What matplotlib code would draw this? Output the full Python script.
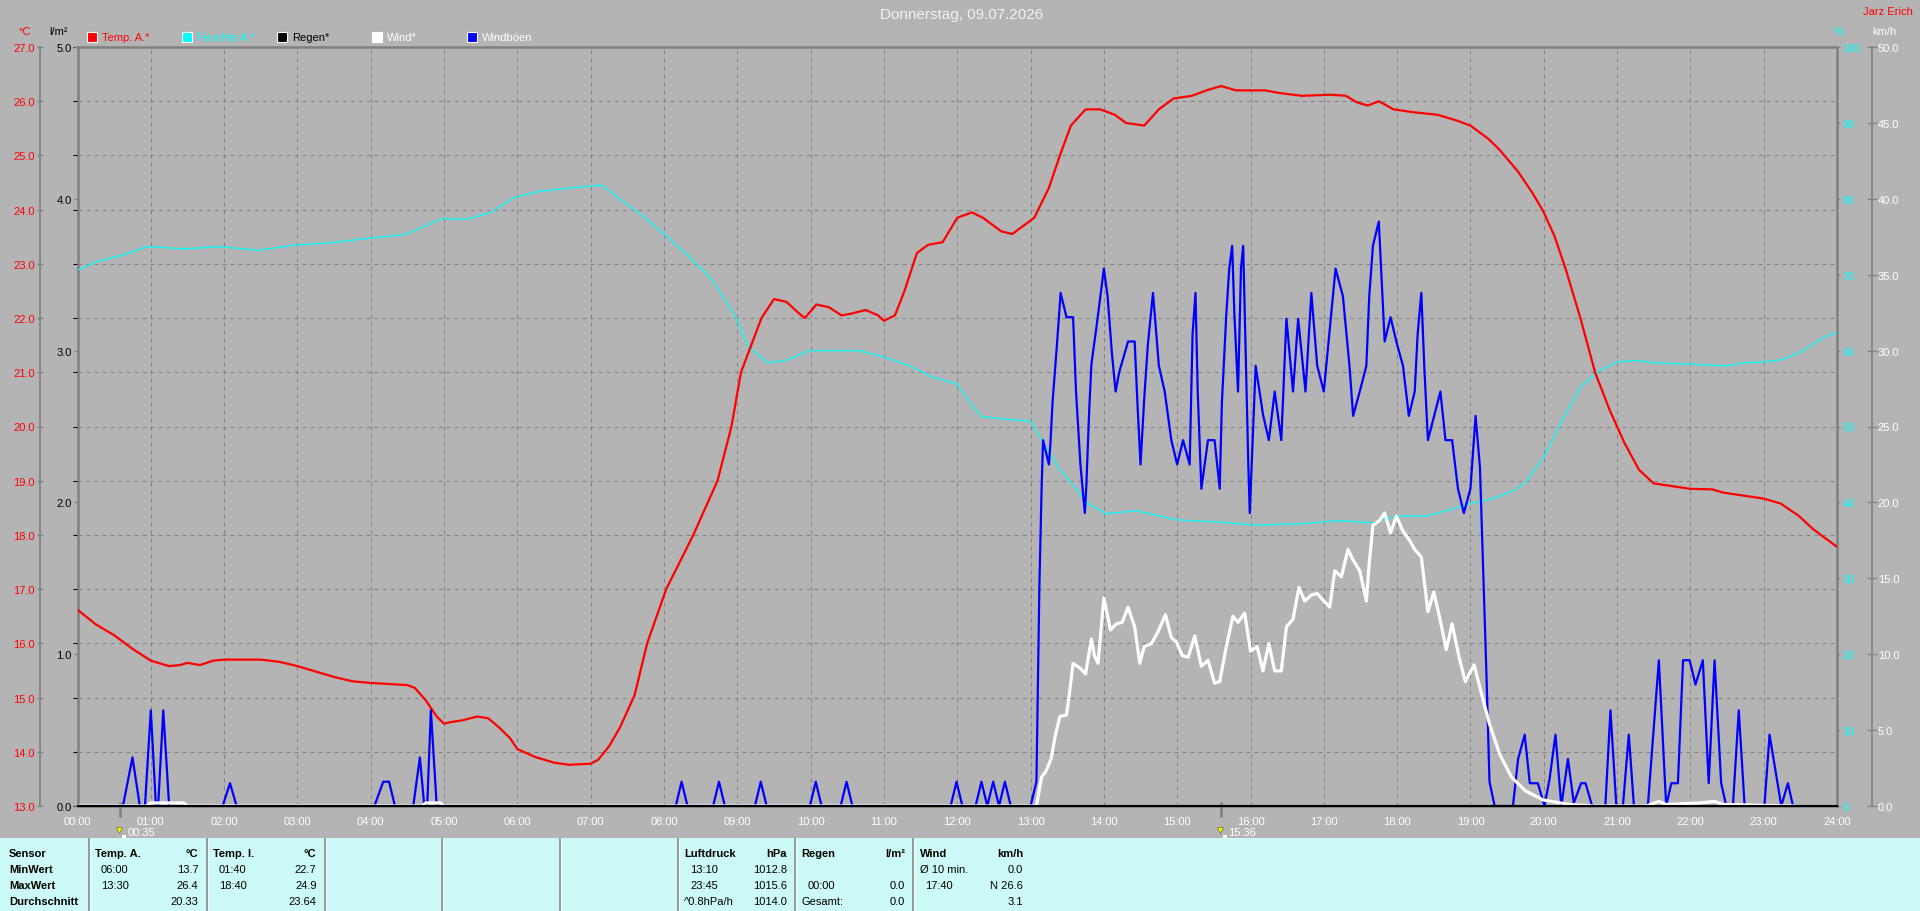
import matplotlib
matplotlib.use("Agg")
import numpy as np
import matplotlib.pyplot as plt
from matplotlib.patches import Rectangle
from matplotlib.ticker import FormatStrFormatter
from matplotlib.transforms import offset_copy

plt.rcParams['font.family'] = ['Liberation Sans', 'DejaVu Sans']

W, H = 1920, 912
BG = '#B4B4B4'
GRIDC = '#808080'
TABLEC = '#CCFAF6'
RED, CYAN, BLUE = '#FF0000', '#00FFFF', '#0000FF'

title = "Donnerstag, 09.07.2026"
station = "Jarz Erich"

# ---- series (hours of day, value) ----
temp_hours = [0.0, 0.25, 0.5, 0.75, 1.0, 1.25, 1.4, 1.5, 1.67, 1.85, 2.0, 2.5, 2.75, 3.0, 3.25, 3.5,
              3.75, 4.0, 4.5, 4.6, 4.75, 4.9, 5.0, 5.1, 5.25, 5.45, 5.6, 5.75, 5.9, 6.0, 6.25, 6.5,
              6.7, 7.0, 7.1, 7.25, 7.4, 7.6, 7.77, 8.03, 8.4, 8.73, 8.92, 9.05, 9.33, 9.5, 9.67,
              9.83, 9.92, 10.08, 10.25, 10.42, 10.55, 10.75, 10.92, 11.0, 11.15, 11.28, 11.45, 11.6,
              11.8, 12.0, 12.2, 12.35, 12.6, 12.75, 12.9, 13.05, 13.25, 13.4, 13.55, 13.75, 13.95,
              14.15, 14.3, 14.55, 14.75, 14.95, 15.2, 15.4, 15.6, 15.8, 16.2, 16.4, 16.7, 17.1, 17.3,
              17.45, 17.6, 17.75, 17.95, 18.2, 18.55, 18.8, 19.0, 19.25, 19.4, 19.65, 19.85, 20.0,
              20.15, 20.3, 20.5, 20.7, 20.9, 21.1, 21.3, 21.5, 21.75, 22.0, 22.3, 22.45, 23.0, 23.23,
              23.48, 23.68, 24.0]
temp_vals = [16.62, 16.35, 16.15, 15.9, 15.68, 15.58, 15.6, 15.64, 15.6, 15.68, 15.7, 15.7, 15.66,
             15.58, 15.48, 15.38, 15.3, 15.27, 15.23, 15.18, 14.95, 14.65, 14.52, 14.55, 14.58, 14.65,
             14.62, 14.45, 14.25, 14.05, 13.9, 13.8, 13.76, 13.78, 13.85, 14.1, 14.45, 15.05, 16.0,
             17.0, 18.0, 19.0, 20.0, 21.0, 22.0, 22.35, 22.3, 22.1, 22.0, 22.25, 22.2, 22.05, 22.08,
             22.15, 22.05, 21.95, 22.05, 22.5, 23.2, 23.35, 23.4, 23.85, 23.95, 23.85, 23.6, 23.55,
             23.7, 23.85, 24.4, 25.0, 25.55, 25.85, 25.85, 25.75, 25.6, 25.55, 25.85, 26.05, 26.1,
             26.2, 26.28, 26.2, 26.2, 26.15, 26.1, 26.12, 26.1, 25.98, 25.92, 26.0, 25.85, 25.8,
             25.75, 25.65, 25.55, 25.3, 25.1, 24.7, 24.3, 23.95, 23.5, 22.9, 22.0, 21.0, 20.3, 19.7,
             19.2, 18.95, 18.9, 18.85, 18.84, 18.78, 18.67, 18.58, 18.35, 18.1, 17.78]

hum_hours = [0.0, 0.28, 0.62, 0.95, 1.46, 1.96, 2.46, 2.96, 3.46, 3.97, 4.47, 4.72, 4.97, 5.31, 5.64,
             5.81, 5.97, 6.31, 6.81, 7.15, 7.31, 7.65, 7.98, 8.32, 8.65, 8.82, 8.99, 9.15, 9.41, 9.66,
             9.99, 10.66, 10.99, 11.33, 11.66, 12.0, 12.17, 12.33, 12.84, 13.0, 13.17, 13.4, 13.58,
             13.76, 14.03, 14.44, 14.99, 15.58, 16.08, 16.71, 17.21, 17.67, 17.99, 18.4, 18.67,
             18.99, 19.31, 19.58, 19.75, 20.0, 20.25, 20.5, 20.75, 21.0, 21.25, 21.5, 22.0, 22.5,
             22.75, 23.0, 23.25, 23.5, 23.67, 23.83, 24.0]
hum_vals = [70.6, 71.8, 72.6, 73.7, 73.4, 73.7, 73.2, 73.9, 74.2, 74.8, 75.3, 76.3, 77.4, 77.3, 78.2,
            79.3, 80.2, 81.0, 81.5, 81.8, 80.6, 78.2, 75.5, 72.6, 69.4, 66.9, 64.2, 60.5, 58.4, 58.7,
            60.0, 60.0, 59.2, 58.1, 56.5, 55.6, 53.2, 51.3, 50.8, 50.7, 47.9, 44.3, 42.3, 40.0, 38.5,
            38.9, 37.7, 37.4, 37.0, 37.2, 37.6, 37.3, 38.2, 38.2, 38.9, 39.8, 40.5, 41.5, 42.6, 46.0,
            50.8, 55.2, 57.3, 58.5, 58.7, 58.4, 58.2, 58.0, 58.4, 58.5, 58.8, 59.8, 60.8, 61.8, 62.4]

gust_hours = [0.0, 0.62, 0.75, 0.85, 0.92, 1.0, 1.07, 1.1, 1.17, 1.25, 1.98, 2.08, 2.17, 4.05, 4.17,
              4.25, 4.33, 4.58, 4.67, 4.73, 4.77, 4.82, 4.9, 8.16, 8.24, 8.32, 8.67, 8.75, 8.83, 9.24,
              9.32, 9.4, 9.99, 10.07, 10.15, 10.41, 10.49, 10.57, 11.91, 11.99, 12.07, 12.25, 12.33,
              12.41, 12.49, 12.57, 12.65, 12.73, 13.0,
              13.08, 13.12, 13.15, 13.17, 13.25, 13.27, 13.30, 13.36, 13.41, 13.49, 13.58, 13.62,
              13.68, 13.74, 13.76, 13.80, 13.83, 13.90, 14.00, 14.05, 14.11, 14.16, 14.21, 14.33,
              14.42, 14.46, 14.50, 14.55, 14.60, 14.67, 14.75, 14.83, 14.92, 15.00, 15.08, 15.17,
              15.21, 15.25, 15.28, 15.33, 15.42, 15.51, 15.58, 15.61, 15.67, 15.71, 15.75, 15.78,
              15.83, 15.87, 15.90, 15.94, 15.97, 15.99, 16.03, 16.07, 16.17, 16.25, 16.33, 16.42,
              16.49, 16.58, 16.65, 16.75, 16.83, 16.91, 17.00, 17.10, 17.16, 17.26, 17.35, 17.40,
              17.49, 17.58, 17.62, 17.67, 17.75, 17.80, 17.83, 17.91, 18.00, 18.08, 18.16, 18.24,
              18.28, 18.33, 18.37, 18.42, 18.59, 18.66, 18.75, 18.83, 18.91, 19.00, 19.07, 19.13,
              19.18, 19.22, 19.26, 19.33,
              19.58, 19.65, 19.74, 19.81, 19.92, 20.01, 20.08, 20.16, 20.24, 20.33, 20.41, 20.51,
              20.57, 20.66, 20.84, 20.91, 20.99, 21.08, 21.16, 21.23, 21.42, 21.57, 21.67, 21.74,
              21.83, 21.90, 21.99, 22.07, 22.17, 22.25, 22.33, 22.42, 22.49, 22.58, 22.66, 22.74,
              23.01, 23.08, 23.24, 23.33, 23.40]
gust_vals = [0, 0, 3.2, 0, 0, 6.3, 0, 0, 6.3, 0, 0, 1.5, 0, 0, 1.6, 1.6, 0, 0, 3.2, 0, 0, 6.3, 0,
             0, 1.6, 0, 0, 1.6, 0, 0, 1.6, 0, 0, 1.6, 0, 0, 1.6, 0, 0, 1.6, 0, 0, 1.6, 0, 1.6, 0,
             1.6, 0, 0,
             1.6, 14.4, 20.8, 24.1, 22.5, 23.8, 26.6, 30.4, 33.8, 32.2, 32.2, 27.3, 22.5, 19.3,
             21.0, 26.1, 29.1, 31.6, 35.4, 33.6, 29.8, 27.3, 28.6, 30.6, 30.6, 26.3, 22.5, 26.8,
             30.4, 33.8, 29.0, 27.3, 24.1, 22.5, 24.1, 22.5, 31.1, 33.8, 27.3, 20.9, 24.1, 24.1,
             20.9, 26.6, 32.4, 35.4, 36.9, 32.4, 27.3, 35.4, 36.9, 28.6, 22.5, 19.3, 24.1, 29.0,
             25.8, 24.1, 27.3, 24.1, 32.1, 27.3, 32.1, 27.3, 33.8, 29.0, 27.3, 32.4, 35.4, 33.6,
             29.0, 25.7, 27.3, 29.0, 33.6, 36.9, 38.5, 33.6, 30.6, 32.2, 30.4, 29.0, 25.7, 27.3,
             31.1, 33.8, 29.0, 24.1, 27.3, 24.1, 24.1, 20.9, 19.3, 20.9, 25.7, 22.3, 14.7, 8.4,
             1.6, 0,
             0, 3.1, 4.7, 1.5, 1.5, 0, 1.8, 4.7, 0, 3.1, 0.2, 1.5, 1.5, 0, 0, 6.3, 0, 0, 4.7, 0,
             0, 9.6, 0, 1.5, 1.5, 9.6, 9.6, 8.0, 9.6, 1.5, 9.6, 1.5, 0, 0, 6.3, 0, 0, 4.7, 0, 1.5,
             0]

wind_hours = [0.0, 0.95, 1.0, 1.45, 1.5, 4.7, 4.75, 4.95, 5.0, 13.08, 13.15, 13.21, 13.28, 13.34,
              13.40, 13.49, 13.53, 13.58, 13.67, 13.75, 13.83, 13.87, 13.92, 14.00, 14.09, 14.17,
              14.25, 14.33, 14.42, 14.49, 14.55, 14.65, 14.74, 14.84, 14.92, 14.99, 15.07, 15.15,
              15.24, 15.33, 15.42, 15.51, 15.58, 15.67, 15.76, 15.83, 15.92, 16.00, 16.09, 16.17,
              16.25, 16.33, 16.42, 16.49, 16.58, 16.66, 16.74, 16.83, 16.91, 17.00, 17.08, 17.15,
              17.24, 17.33, 17.40, 17.49, 17.58, 17.62, 17.67, 17.76, 17.83, 17.91, 17.99, 18.08,
              18.17, 18.24, 18.33, 18.42, 18.50, 18.59, 18.67, 18.75, 18.85, 18.93, 19.05, 19.15,
              19.26, 19.40, 19.56, 19.75, 19.99, 20.35, 20.67, 21.40, 21.57, 21.67, 22.12, 22.33,
              22.45, 23.40]
wind_vals = [0, 0, 0.2, 0.2, 0, 0, 0.2, 0.2, 0, 0, 1.9, 2.3, 3.1, 4.7, 5.9, 6.0, 7.4, 9.4, 9.1,
             8.7, 11.0, 9.9, 9.4, 13.7, 11.6, 12.0, 12.1, 13.1, 11.8, 9.4, 10.5, 10.7, 11.5, 12.6,
             11.1, 10.8, 9.9, 9.8, 11.2, 9.2, 9.6, 8.1, 8.2, 10.5, 12.5, 12.1, 12.7, 10.2, 10.5,
             8.9, 10.7, 8.9, 8.9, 11.8, 12.3, 14.4, 13.5, 13.9, 14.0, 13.5, 13.1, 15.5, 15.1, 16.9,
             16.2, 15.5, 13.5, 16.0, 18.5, 18.8, 19.3, 18.0, 19.1, 18.1, 17.5, 16.9, 16.4, 12.8,
             14.1, 12.2, 10.3, 12.0, 9.7, 8.2, 9.3, 7.4, 5.4, 3.4, 1.9, 1.0, 0.4, 0.1, 0, 0, 0.3,
             0.1, 0.2, 0.3, 0.1, 0]

rain_hours = [0.0, 24.0]
rain_vals = [0.0, 0.0]

legend_labels = ["Temp. A.*", "Feuchte A.*", "Regen*", "Wind*", "Windböen"]
legend_colors = [RED, CYAN, '#000000', '#FFFFFF', BLUE]
legend_text_colors = [RED, CYAN, '#000000', '#FFFFFF', '#FFFFFF']

event_hours = [35 / 60, 15.6]
event_labels = ["00:35", "15:36"]

# ---- summary table ----
row_names = ["Sensor", "MinWert", "MaxWert", "Durchschnitt"]
col_headers = ["Temp. A.", "Temp. I.", "Luftdruck", "Regen", "Wind"]
col_units = ["°C", "°C", "hPa", "l/m²", "km/h"]
col_slots = [1, 2, 6, 7, 8]
col_labels = [["06:00", "13:30", ""], ["01:40", "18:40", ""], ["13:10", "23:45", "^0.8hPa/h"],
              ["", "00:00", "Gesamt:"], ["Ø 10 min.", "17:40", ""]]
col_values = [["13.7", "26.4", "20.33"], ["22.7", "24.9", "23.64"], ["1012.8", "1015.6", "1014.0"],
              ["", "0.0", "0.0"], ["0.0", "N 26.6", "3.1"]]


def fx(x):
    return x / W


def fy(y):
    return 1 - y / H


fig = plt.figure(figsize=(19.2, 9.12), dpi=100, facecolor=BG)

# plot box in pixels
L, R, T, B = 77.5, 1837, 48, 807
ax = fig.add_axes([fx(L), fy(B), (R - L) / W, (B - T) / H])
ax.set_facecolor(BG)
ax.set_xlim(0, 24)
ax.set_ylim(13, 27)
ax.set_xticks(range(25))
ax.set_xticklabels(["%02d:00" % h for h in range(25)])
ax.set_yticks(range(13, 28))
ax.tick_params(axis='y', left=False, labelleft=False)
ax.tick_params(axis='x', length=0, pad=7.5, labelsize=8, labelcolor='white')
ax.grid(True, color=GRIDC, linestyle=(0, (4, 4)), linewidth=0.72)
for s in ax.spines.values():
    s.set_color(GRIDC)
    s.set_linewidth(1.8)

# humidity (right, %)
ax_h = ax.twinx()
ax_h.set_ylim(0, 100)
ax_h.set_yticks(range(0, 101, 10))
ax_h.tick_params(axis='y', direction='out', length=2.5, width=0.8, color=GRIDC,
                 labelcolor=CYAN, labelsize=8, pad=1.5)
for s in ax_h.spines.values():
    s.set_visible(False)
ax_h.plot(hum_hours, hum_vals, color=CYAN, lw=0.9)

# temperature (far left, °C)
ax_t = ax.twinx()
ax_t.yaxis.tick_left()
ax_t.set_ylim(13, 27)
ax_t.set_yticks(range(13, 28))
ax_t.yaxis.set_major_formatter(FormatStrFormatter('%.1f'))
for k, s in ax_t.spines.items():
    s.set_visible(k == 'left')
ax_t.spines['left'].set_position(('outward', 37.5 * 0.72))
ax_t.spines['left'].set_color(GRIDC)
ax_t.spines['left'].set_linewidth(1.2)
ax_t.tick_params(axis='y', direction='inout', length=5, width=0.9, color=GRIDC,
                 labelcolor=RED, labelsize=8, pad=1.2)
ax_t.plot(temp_hours, temp_vals, color=RED, lw=1.6)

# wind (far right, km/h)
ax_w = ax.twinx()
ax_w.set_ylim(0, 50)
ax_w.set_yticks(np.arange(0, 51, 5))
ax_w.yaxis.set_major_formatter(FormatStrFormatter('%.1f'))
for k, s in ax_w.spines.items():
    s.set_visible(k == 'right')
ax_w.spines['right'].set_position(('outward', 35 * 0.72))
ax_w.spines['right'].set_color(GRIDC)
ax_w.spines['right'].set_linewidth(1.2)
ax_w.tick_params(axis='y', direction='inout', length=6.5, width=0.9, color=GRIDC,
                 labelcolor='white', labelsize=8, pad=0.8)
ax_w.plot(gust_hours, gust_vals, color=BLUE, lw=1.6)
ax_w.plot(wind_hours, wind_vals, color='white', lw=2.3)

# rain (inner left, l/m²)
ax_r = ax.twinx()
ax_r.yaxis.tick_left()
ax_r.set_ylim(0, 5)
ax_r.set_yticks(range(6))
ax_r.yaxis.set_major_formatter(FormatStrFormatter('%.1f'))
for s in ax_r.spines.values():
    s.set_visible(False)
ax_r.tick_params(axis='y', direction='out', length=3, width=0.9, color=GRIDC,
                 labelcolor='black', labelsize=8, pad=1.2)
ax_r.plot(rain_hours, rain_vals, color='black', lw=1.5, clip_on=False)

# thin inner line at the end of the time axis
ax.axvline(24, color=GRIDC, lw=0.8)

# sun / event markers under the time axis
xt = ax.get_xaxis_transform()
for h, lab in zip(event_hours, event_labels):
    ax.plot([h, h], [-0.0135, 0.004], transform=xt, color=GRIDC, lw=1.8, clip_on=False)
    ax.annotate(lab, xy=(h, 0), xycoords=xt, xytext=(5, -19), textcoords='offset points',
                color='white', fontsize=8, va='center', ha='left')
    ax.plot([h], [0], transform=offset_copy(xt, fig=fig, x=-1, y=-17.5, units='points'),
            marker='v', ms=4.5, color='#FFFF00', mec='#606000', mew=0.4, clip_on=False)
    ax.plot([h], [0], transform=offset_copy(xt, fig=fig, x=2.5, y=-22, units='points'),
            marker='s', ms=2.5, color='white', mew=0, clip_on=False)

# axis unit labels, title
fig.text(fx(24.5), fy(32), '°C', color=RED, ha='center', va='center', fontsize=8)
fig.text(fx(58), fy(32), 'l/m²', color='black', ha='center', va='center', fontsize=8)
fig.text(fx(1839), fy(32), '%', color=CYAN, ha='center', va='center', fontsize=8)
fig.text(fx(1884), fy(32), 'km/h', color='white', ha='center', va='center', fontsize=8)
fig.text(fx(1913), fy(12), station, color=RED, ha='right', va='center', fontsize=8)
fig.text(fx(962), fy(15), title, color='#F2F2F2', ha='center', va='center', fontsize=11)

# legend row
legend_x = [87, 182, 277, 372, 467]
for x, lab, c, tc in zip(legend_x, legend_labels, legend_colors, legend_text_colors):
    fig.add_artist(Rectangle((fx(x), fy(43)), 10 / W, 10 / H, transform=fig.transFigure,
                             facecolor=c, edgecolor='white', lw=0.8))
    fig.text(fx(x + 15), fy(38), lab, color=tc, ha='left', va='center', fontsize=8)

# summary table
tab = fig.add_axes([0, 0, 1, (H - 839) / H])
tab.set_xlim(0, W)
tab.set_ylim(H, 839)
tab.axis('off')
tab.add_patch(Rectangle((0, 839), W, H - 839, facecolor=TABLEC, edgecolor='none'))
cell_x = [0, 88.6, 206.5, 324.5, 442, 559.5, 677.5, 795, 913, 1031]
for x in cell_x[1:-1]:
    tab.plot([x, x], [839, H], color='#8A8A8A', lw=1.2)
    tab.plot([x + 1.3, x + 1.3], [839, H], color='white', lw=0.6)
row_y = [854, 870, 886, 902]
for y, name in zip(row_y, row_names):
    tab.text(9, y, name, fontsize=8, fontweight='bold', va='center', ha='left')
for slot, head, unit, labs, vals in zip(col_slots, col_headers, col_units, col_labels, col_values):
    x0 = cell_x[slot] + 6.5
    x1 = cell_x[slot + 1] - 8
    tab.text(x0, row_y[0], head, fontsize=8, fontweight='bold', va='center', ha='left')
    tab.text(x1, row_y[0], unit, fontsize=8, fontweight='bold', va='center', ha='right')
    for y, lab, val in zip(row_y[1:], labs, vals):
        indent = 6 if (len(lab) == 5 and lab[2] == ':') else 0
        tab.text(x0 + indent, y, lab, fontsize=8, va='center', ha='left')
        tab.text(x1, y, val, fontsize=8, va='center', ha='right')

fig.savefig("out.png", dpi=100, facecolor=BG)
